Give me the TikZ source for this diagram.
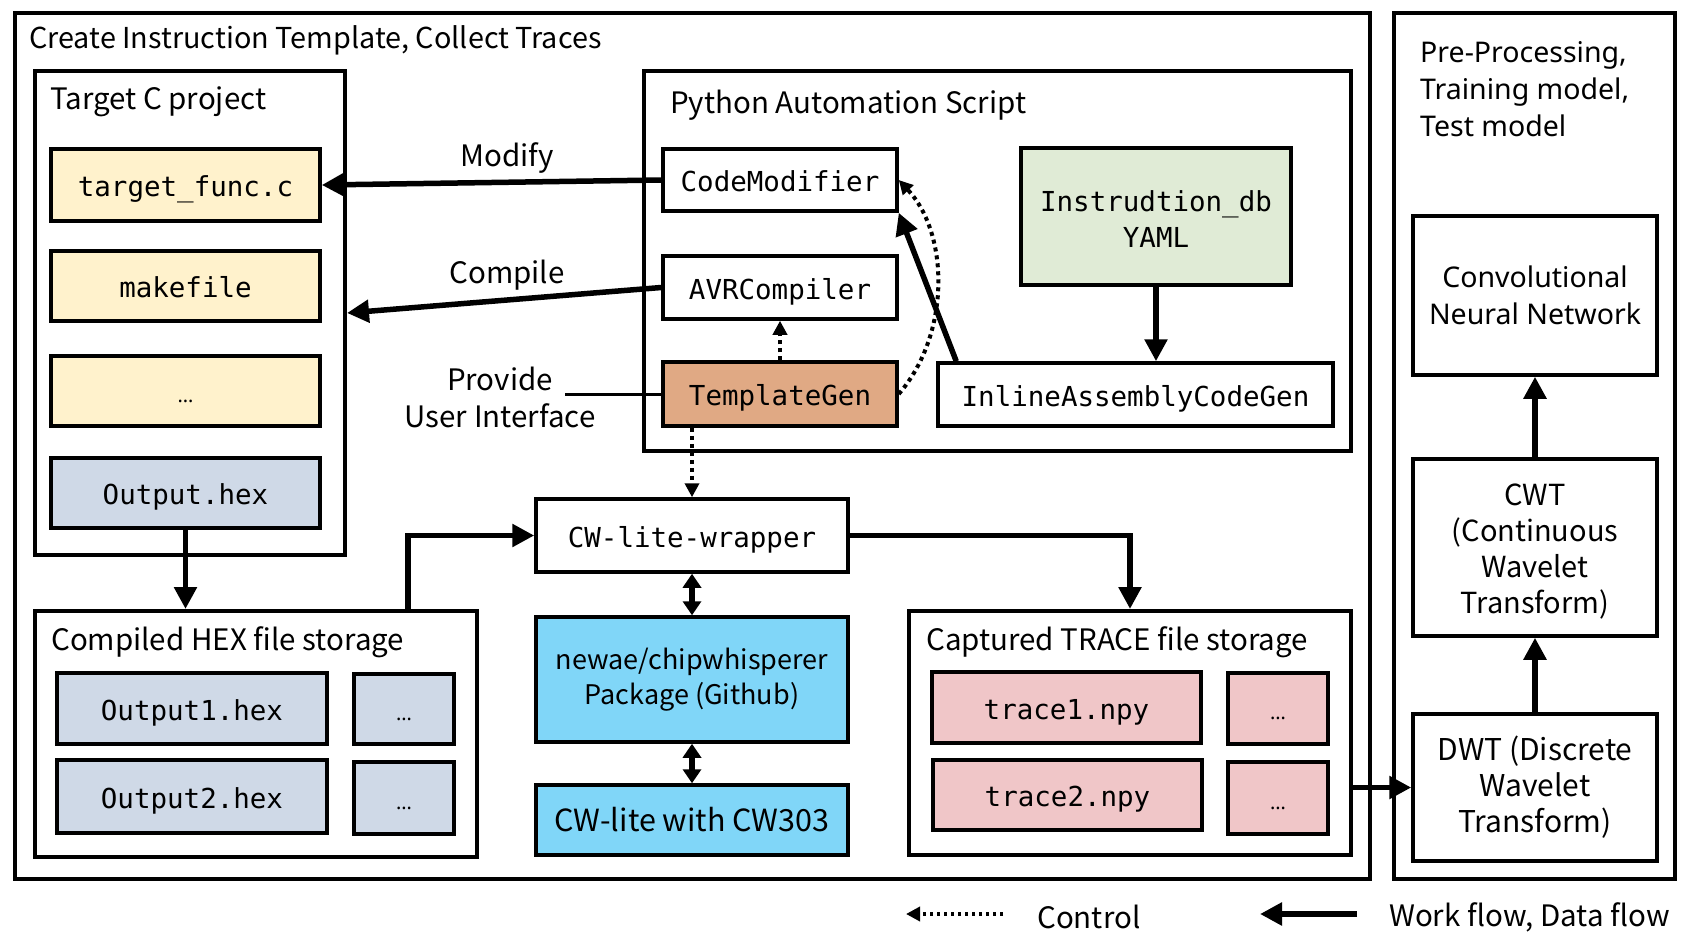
\documentclass[tikz,border=0pt]{standalone}
\usepackage{fontspec}
\setmainfont{Noto Sans CJK KR}
\newfontfamily\wid{Noto Sans}
\setmonofont{DejaVu Sans Mono}
\usetikzlibrary{arrows.meta,calc}
\definecolor{cyel}{HTML}{FFF2CC}
\definecolor{cblu}{HTML}{CFD9E7}
\definecolor{cpnk}{HTML}{F0C6C8}
\definecolor{ccya}{HTML}{80D6F8}
\definecolor{ctan}{HTML}{E0A984}
\definecolor{cgrn}{HTML}{E0EBD6}
\begin{document}
\begin{tikzpicture}[x=1pt,y=-1pt,
  frame/.style={draw, line width=4pt, inner sep=0pt},
  mono/.style={draw, line width=3.5pt, inner sep=0pt, align=center, font=\fontsize{27.5}{36}\selectfont\ttfamily},
  box/.style={mono, text height=28pt, text depth=5pt},
  sbox/.style={draw, line width=3.5pt, inner sep=0pt, align=center, font=\fontsize{28.5}{36}\selectfont},
  wbox/.style={draw, line width=3.5pt, inner sep=0pt, align=center, font=\wid\fontsize{28.5}{36.5}\selectfont},
  dbox/.style={draw, line width=3.5pt, inner sep=0pt, text height=22pt, text depth=0pt, font=\wid\bfseries\fontsize{20}{22}\selectfont},
  lbl/.style={inner sep=0pt, font=\fontsize{29.5}{37}\selectfont},
  flow/.style={line width=5.5pt, -{Triangle[length=22pt,width=22pt]}},
  both/.style={line width=5.5pt, {Triangle[length=14pt,width=18pt]}-{Triangle[length=14pt,width=18pt]}},
  ctrl/.style={line width=4pt, dash pattern=on 4pt off 4pt, -{Triangle[length=14pt,width=14pt]}}
]
\useasboundingbox (0,0) rectangle (1691,939);
\fill[white] (0,0) rectangle (1691,939);

% outer frames
\node[frame, minimum width=1355pt, minimum height=866pt] (outer) at (692.5,446) {};
\node[frame, minimum width=281pt, minimum height=866pt] (rframe) at (1534.5,446) {};
\node[lbl, anchor=west, font=\fontsize{28.8}{37}\selectfont] (ttl) at (29,40.5) {Create Instruction Template, Collect Traces};
\node[anchor=north west, inner sep=0pt, align=left, font=\wid\fontsize{28.5}{37}\selectfont] (rttl) at (1420,41) {Pre-Processing,\\Training model,\\Test model};

% Target C project
\node[frame, minimum width=310pt, minimum height=484pt] (tc) at (190,313) {};
\node[lbl, anchor=west] (tcl) at (50,101.5) {Target C project};
\node[box, fill=cyel, minimum width=269pt, minimum height=72pt] (tf) at (185.5,185) {target\_func.c};
\node[box, fill=cyel, minimum width=269pt, minimum height=70pt] (mk) at (185.5,286) {makefile};
\node[dbox, fill=cyel, minimum width=269pt, minimum height=70pt] (el) at (185.5,391) {…};
\node[box, fill=cblu, minimum width=269pt, minimum height=70pt] (oh) at (185.5,493) {Output.hex};

% Python Automation Script
\node[frame, minimum width=707pt, minimum height=380pt] (py) at (997.5,261) {};
\node[lbl, anchor=west] (pyl) at (670,105.5) {Python Automation Script};
\node[box, minimum width=234pt, minimum height=62pt] (cm) at (780,180) {CodeModifier};
\node[box, minimum width=234pt, minimum height=63pt] (avr) at (780,287.5) {AVRCompiler};
\node[box, fill=ctan, minimum width=234pt, minimum height=64pt] (tg) at (780,394) {TemplateGen};
\node[mono, fill=cgrn, minimum width=270pt, minimum height=137pt] (idb) at (1156,216.5) {\rule{0pt}{25pt}Instrudtion\_db\\YAML};
\node[box, minimum width=395pt, minimum height=63pt] (iac) at (1135.5,394.5) {InlineAssemblyCodeGen};

% labels
\node[lbl] (lmod) at (507,158.5) {Modify};
\node[lbl] (lcmp) at (507,275.5) {Compile};
\node[lbl, align=center] (lui) at (500,397.5) {Provide\\User Interface};
\coordinate (uil) at (565,394);

% CW wrapper column
\node[box, minimum width=312pt, minimum height=73pt] (wr) at (692,535.5) {CW-lite-wrapper};
\node[sbox, font=\fontsize{27}{35}\selectfont, fill=ccya, minimum width=312pt, minimum height=125pt] (nw) at (692,679.5) {newae/chipwhisperer\\Package (Github)};
\node[sbox, font=\fontsize{30.5}{36}\selectfont, fill=ccya, minimum width=312pt, minimum height=70pt] (cw) at (692,820) {CW-lite with CW303};

% Compiled HEX storage
\node[frame, minimum width=442pt, minimum height=246pt] (hs) at (256,734) {};
\node[lbl, anchor=west] (hsl) at (51,642) {Compiled HEX file storage};
\node[box, fill=cblu, minimum width=270pt, minimum height=71pt] (o1) at (192,708.5) {Output1.hex};
\node[dbox, fill=cblu, minimum width=100pt, minimum height=70pt] (d1) at (404,709) {…};
\node[box, fill=cblu, minimum width=270pt, minimum height=73pt] (o2) at (192,796.5) {Output2.hex};
\node[dbox, fill=cblu, minimum width=100pt, minimum height=72pt] (d2) at (404,798) {…};

% Captured TRACE storage
\node[frame, minimum width=442pt, minimum height=244pt] (ts) at (1130,733) {};
\node[lbl, anchor=west] (tsl) at (926,642) {Captured TRACE file storage};
\node[box, fill=cpnk, minimum width=269pt, minimum height=71pt] (t1) at (1066.5,707.5) {trace1.npy};
\node[dbox, fill=cpnk, minimum width=100pt, minimum height=71pt] (d3) at (1278,708.5) {…};
\node[box, fill=cpnk, minimum width=269pt, minimum height=70pt] (t2) at (1067.5,795) {trace2.npy};
\node[dbox, fill=cpnk, minimum width=100pt, minimum height=72pt] (d4) at (1278,798) {…};

% right panel
\node[wbox, minimum width=244pt, minimum height=159pt] (cnn) at (1535,295.5) {Convolutional\\Neural Network};
\node[sbox, font=\fontsize{29}{36}\selectfont, minimum width=244pt, minimum height=177pt] (cwt) at (1535,547.5) {\rule{0pt}{29pt}CWT\\(Continuous\\Wavelet\\Transform)};
\node[sbox, font=\fontsize{30}{36}\selectfont, minimum width=244pt, minimum height=147pt] (dwt) at (1535,787.5) {DWT (Discrete\\Wavelet\\Transform)};

% connectors
\draw[flow] (cm.west) -- (tf.east);
\draw[flow] (avr.west) -- (tc.east);
\draw[line width=3pt] (uil) -- (tg.west);
\draw[ctrl] (tg.north) -- (avr.south);
\draw[ctrl] (tg.east) .. controls (950,335) and (950,235) .. (cm.east);
\draw[flow] ($(iac.north west)+(20,0)$) -- (cm.south east);
\draw[flow] (idb.south) -- (idb.south |- iac.north);
\draw[ctrl] (wr.north |- tg.south) -- (wr.north);
\draw[flow] (oh.south) -- (oh.south |- hs.north);
\draw[flow] (hs.north -| 408,0) |- (wr.west);
\draw[flow] (wr.east) -| (ts.north);
\draw[both] (wr.south) -- (nw.north);
\draw[both] (nw.south) -- (cw.north);
\draw[flow] (dwt.west -| ts.east) -- (dwt.west);
\draw[flow] (dwt.north) -- (cwt.south);
\draw[flow] (cwt.north) -- (cnn.south);

% legend
\coordinate (lc1) at (1003,914);
\coordinate (lc2) at (906,914);
\draw[ctrl, line width=3.5pt, dash pattern=on 3.5pt off 3.5pt] (lc1) -- (lc2);
\node[lbl, anchor=west] (lgc) at (1037,917) {Control};
\coordinate (lf1) at (1357,914);
\coordinate (lf2) at (1260,914);
\draw[flow] (lf1) -- (lf2);
\node[lbl, anchor=west] (lgf) at (1389,917) {Work flow, Data flow};
\end{tikzpicture}
\end{document}
